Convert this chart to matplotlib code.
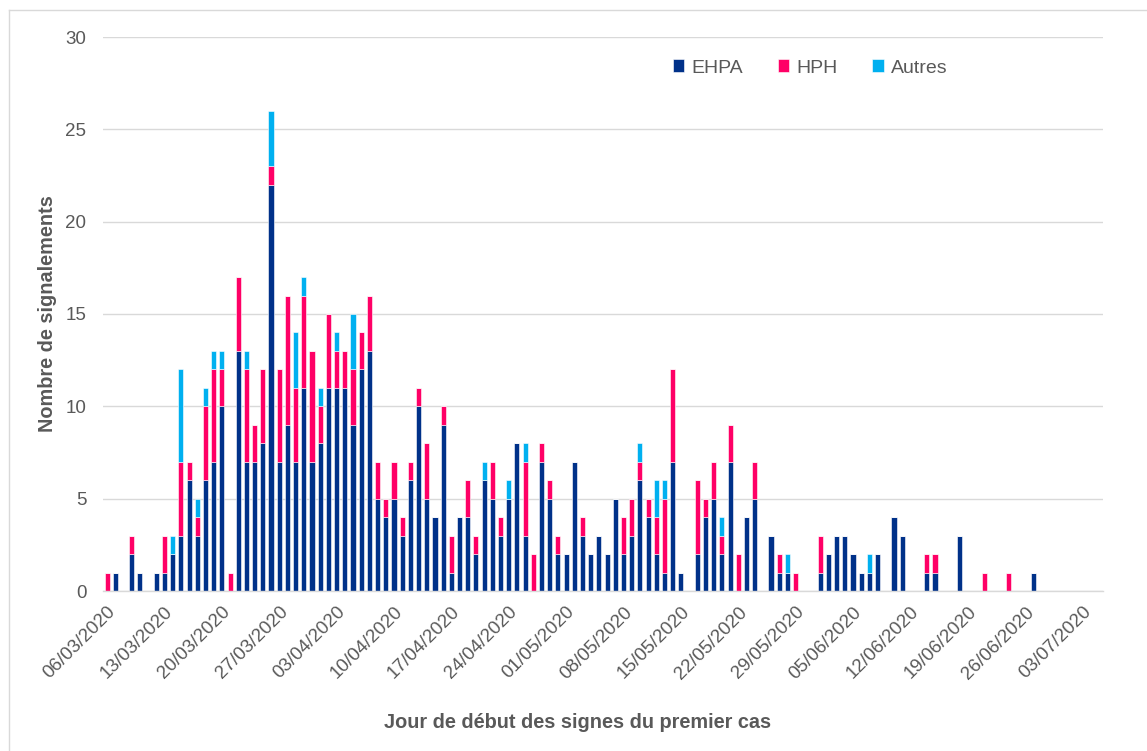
import matplotlib
matplotlib.use("Agg")
import matplotlib.pyplot as plt
from matplotlib.lines import Line2D
import numpy as np

plt.rcParams['font.family'] = ['Liberation Sans', 'DejaVu Sans']

# Daily counts from 06/03/2020 (day 0) to 05/07/2020 (day 121)
ehpa = [0, 1, 0, 2, 1, 0, 1, 1, 2, 3, 6, 3, 6, 7, 10, 0, 13, 7, 7, 8,
        22, 7, 9, 7, 11, 7, 8, 11, 11, 11, 9, 12, 13, 5, 4, 5, 3, 6, 10, 5,
        4, 9, 1, 4, 4, 2, 6, 5, 3, 5, 8, 3, 0, 7, 5, 2, 2, 7, 3, 2,
        3, 2, 5, 2, 3, 6, 4, 2, 1, 7, 1, 0, 2, 4, 5, 2, 7, 0, 4, 5,
        0, 3, 1, 1, 0, 0, 0, 1, 2, 3, 3, 2, 1, 1, 2, 0, 4, 3, 0, 0,
        1, 1, 0, 0, 3, 0, 0, 0, 0, 0, 0, 0, 0, 1, 0, 0, 0, 0, 0, 0,
        0, 0]
hph = [1, 0, 0, 1, 0, 0, 0, 2, 0, 4, 1, 1, 4, 5, 2, 1, 4, 5, 2, 4,
       1, 5, 7, 4, 5, 6, 2, 4, 2, 2, 3, 2, 3, 2, 1, 2, 1, 1, 1, 3,
       0, 1, 2, 0, 2, 1, 0, 2, 1, 0, 0, 4, 2, 1, 1, 1, 0, 0, 1, 0,
       0, 0, 0, 2, 2, 1, 1, 2, 4, 5, 0, 0, 4, 1, 2, 1, 2, 2, 0, 2,
       0, 0, 1, 0, 1, 0, 0, 2, 0, 0, 0, 0, 0, 0, 0, 0, 0, 0, 0, 0,
       1, 1, 0, 0, 0, 0, 0, 1, 0, 0, 1, 0, 0, 0, 0, 0, 0, 0, 0, 0,
       0, 0]
autres = [0, 0, 0, 0, 0, 0, 0, 0, 1, 5, 0, 1, 1, 1, 1, 0, 0, 1, 0, 0,
          3, 0, 0, 3, 1, 0, 1, 0, 1, 0, 3, 0, 0, 0, 0, 0, 0, 0, 0, 0,
          0, 0, 0, 0, 0, 0, 1, 0, 0, 1, 0, 1, 0, 0, 0, 0, 0, 0, 0, 0,
          0, 0, 0, 0, 0, 1, 0, 2, 1, 0, 0, 0, 0, 0, 0, 1, 0, 0, 0, 0,
          0, 0, 0, 1, 0, 0, 0, 0, 0, 0, 0, 0, 0, 1, 0, 0, 0, 0, 0, 0,
          0, 0, 0, 0, 0, 0, 0, 0, 0, 0, 0, 0, 0, 0, 0, 0, 0, 0, 0, 0,
          0, 0]
tick_labels = ['06/03/2020', '13/03/2020', '20/03/2020', '27/03/2020',
               '03/04/2020', '10/04/2020', '17/04/2020', '24/04/2020',
               '01/05/2020', '08/05/2020', '15/05/2020', '22/05/2020',
               '29/05/2020', '05/06/2020', '12/06/2020', '19/06/2020',
               '26/06/2020', '03/07/2020']

c_ehpa = '#003189'
c_hph = '#FF0066'
c_aut = '#00B0F0'
gray = '#595959'

fig = plt.figure(figsize=(11.47, 7.51), dpi=100)
ax = fig.add_axes([103/1147, 160/751, 1000/1147, 554/751])

x = np.arange(len(ehpa))
e = np.array(ehpa)
h = np.array(hph)
a = np.array(autres)
w = 0.62
kw = dict(width=w, edgecolor='white', linewidth=0.4, zorder=3)
ax.bar(x, e, color=c_ehpa, label='EHPA', **kw)
ax.bar(x, h, bottom=e, color=c_hph, label='HPH', **kw)
ax.bar(x, a, bottom=e + h, color=c_aut, label='Autres', **kw)

ax.set_xlim(-0.5, len(ehpa) - 0.5)
ax.set_ylim(0, 30)
ax.set_yticks(range(0, 31, 5))
ax.set_xticks(np.arange(len(tick_labels)) * 7)
ax.set_xticklabels(tick_labels, rotation=45, ha='right', rotation_mode='anchor')
ax.tick_params(axis='both', length=0, labelsize=13.5, colors=gray)
ax.tick_params(axis='x', pad=9)
ax.tick_params(axis='y', pad=12)
ax.grid(axis='y', color='#D9D9D9', linewidth=1, zorder=0)
for s in ['top', 'right', 'left']:
    ax.spines[s].set_visible(False)
ax.spines['bottom'].set_color('#D9D9D9')
ax.spines['bottom'].set_linewidth(1)
ax.spines['bottom'].set_zorder(4)

ax.set_ylabel('Nombre de signalements', fontsize=14.3, fontweight='bold',
              color=gray)
ax.yaxis.set_label_coords((57 - 103) / 1000, 0.5)
fig.text(578/1147, 1 - 722/751, 'Jour de début des signes du premier cas',
         ha='center', va='center', fontsize=14.3, fontweight='bold', color=gray)

leg = ax.legend(loc='center', bbox_to_anchor=(810/1147, 1 - 68/751),
                bbox_transform=fig.transFigure, ncol=3, frameon=False,
                fontsize=14, handlelength=0.6, handleheight=0.6,
                handletextpad=0.35, columnspacing=1.8)
for t in leg.get_texts():
    t.set_color(gray)

# chart frame (left and top edges visible)
fig.add_artist(Line2D([9/1147, 9/1147], [0, 1 - 10/751],
                      transform=fig.transFigure, color='#D9D9D9', lw=1))
fig.add_artist(Line2D([9/1147, 1], [1 - 10/751, 1 - 10/751],
                      transform=fig.transFigure, color='#D9D9D9', lw=1))

fig.savefig('out.png', dpi=100, facecolor='white')
